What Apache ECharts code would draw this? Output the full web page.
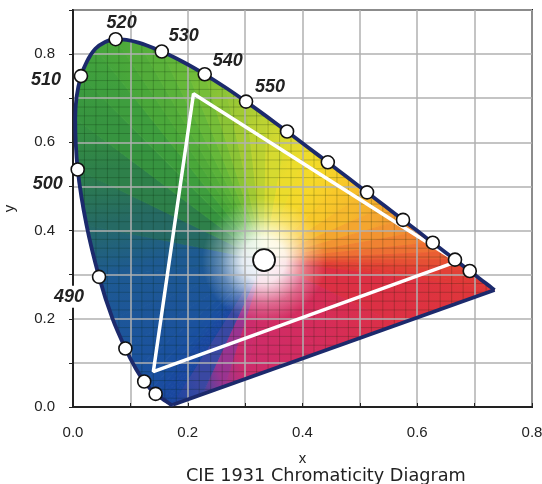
<!DOCTYPE html>
<html>
<head>
<meta charset="utf-8">
<script src="https://cdn.jsdelivr.net/npm/echarts@6/dist/echarts.min.js"></script>
<style>
  html, body { margin: 0; padding: 0; background: #fff; }
  #chart { width: 542px; height: 484px; }
</style>
</head>
<body>
<div id="chart"></div>
<script>
// spectral locus (CIE 1931)
const wavelengths = [380, 400, 420, 430, 440, 445, 450, 455, 460, 465, 470, 475, 480, 485, 490, 495, 500, 505, 510, 515, 520, 525, 530, 535, 540, 545, 550, 555, 560, 565, 570, 575, 580, 585, 590, 595, 600, 605, 610, 615, 620, 630, 640, 650, 660, 680, 700];
const locusX = [0.1741, 0.1733, 0.1714, 0.1689, 0.1644, 0.1611, 0.1566, 0.1510, 0.1440, 0.1355, 0.1241, 0.1096, 0.0913, 0.0687, 0.0454, 0.0235, 0.0082, 0.0039, 0.0139, 0.0389, 0.0743, 0.1142, 0.1547, 0.1929, 0.2296, 0.2658, 0.3016, 0.3373, 0.3731, 0.4087, 0.4441, 0.4788, 0.5125, 0.5448, 0.5752, 0.6029, 0.6270, 0.6482, 0.6658, 0.6801, 0.6915, 0.7079, 0.7190, 0.7260, 0.7300, 0.7334, 0.7347];
const locusY = [0.0050, 0.0048, 0.0051, 0.0069, 0.0109, 0.0138, 0.0177, 0.0227, 0.0297, 0.0399, 0.0578, 0.0868, 0.1327, 0.2007, 0.2950, 0.4127, 0.5384, 0.6548, 0.7502, 0.8120, 0.8338, 0.8262, 0.8059, 0.7816, 0.7543, 0.7243, 0.6923, 0.6589, 0.6245, 0.5896, 0.5547, 0.5202, 0.4866, 0.4544, 0.4242, 0.3965, 0.3725, 0.3514, 0.3340, 0.3197, 0.3083, 0.2920, 0.2809, 0.2740, 0.2700, 0.2666, 0.2653];

const markedNm = [460, 470, 480, 490, 500, 510, 520, 530, 540, 550, 560, 570, 580, 590, 600, 610, 620];
const labeledNm = [490, 500, 510, 520, 530, 540, 550];

// gamut triangle and white point
const triX = [0.67, 0.21, 0.14];
const triY = [0.33, 0.71, 0.08];
const whitePoint = [0.333, 0.333];

const tickLabels = ['0.0', '0.2', '0.4', '0.6', '0.8'];

// fill colours along the locus (style)
const locusColors = ['#1a45a0', '#1a45a0', '#1a46a0', '#1a47a0', '#1a48a0', '#1a48a0', '#1a49a0', '#1a4aa0', '#1a4ca0', '#1a4ea0', '#1a50a0', '#1b529e', '#1c549c', '#1d5698', '#1e5a92', '#266a64', '#2e804a', '#379440', '#3e9e3e', '#44a43c', '#4aa83a', '#52ac3a', '#5ab23a', '#66b83a', '#76be38', '#8cc436', '#a2ca34', '#bcd232', '#d6da30', '#ecdc2c', '#f6d82a', '#f8c82a', '#f6b82c', '#f4a630', '#f29432', '#f08232', '#ee7034', '#ea5e34', '#e65034', '#e44634', '#e24036', '#e03a36', '#e03838', '#e03838', '#e03838', '#e03838', '#e03838'];
const purpleStops = [[0, '#e03838'], [0.3, '#dc3044'], [0.55, '#d42c5e'], [0.77, '#cc2c6c'], [0.84, '#9a3490'], [0.91, '#3a48a2'], [1, '#1a45a0']];

const labelOffsets = { 490: [-30, 20], 500: [-30, 15], 510: [-35, 4], 520: [6, -16], 530: [22, -15], 540: [23, -13], 550: [24, -15] };

const poly = wavelengths.map((nm, i) => [locusX[i], locusY[i]]);

function span(ci, c) {
  const oi = 1 - ci;
  const hits = [];
  for (let i = 0; i < poly.length; i++) {
    const p = poly[i], q = poly[(i + 1) % poly.length];
    if ((p[ci] - c) * (q[ci] - c) <= 0 && p[ci] !== q[ci]) {
      const t = (c - p[ci]) / (q[ci] - p[ci]);
      hits.push(p[oi] + t * (q[oi] - p[oi]));
    }
  }
  if (hits.length < 2) return null;
  return [Math.min(...hits), Math.max(...hits)];
}

function tri(W, A, B, cA, cB) {
  let fill = cA;
  if (Math.hypot(B[0] - A[0], B[1] - A[1]) > 0.5) {
    fill = { type: 'linear', x: A[0], y: A[1], x2: B[0], y2: B[1], global: true,
      colorStops: [{ offset: 0, color: cA }, { offset: 1, color: cB }] };
  }
  return { type: 'polygon', shape: { points: [W, A, B] }, style: { fill: fill, stroke: fill, lineWidth: 1 } };
}

function renderFill(params, api) {
  const W = api.coord(whitePoint);
  const pts = poly.map(p => api.coord(p));
  const children = [];
  for (let i = 0; i < pts.length - 1; i++) {
    children.push(tri(W, pts[i], pts[i + 1], locusColors[i], locusColors[i + 1]));
  }
  const tip = pts[pts.length - 1], bot = pts[0];
  const lerp = f => [tip[0] + (bot[0] - tip[0]) * f, tip[1] + (bot[1] - tip[1]) * f];
  for (let j = 0; j < purpleStops.length - 1; j++) {
    children.push(tri(W, lerp(purpleStops[j][0]), lerp(purpleStops[j + 1][0]), purpleStops[j][1], purpleStops[j + 1][1]));
  }
  // white glow around the white point
  children.push({
    type: 'polygon', shape: { points: pts },
    style: { fill: { type: 'radial', x: W[0], y: W[1], r: 62, global: true,
      colorStops: [
        { offset: 0, color: 'rgba(255,255,255,1)' },
        { offset: 0.35, color: 'rgba(255,255,255,0.88)' },
        { offset: 0.7, color: 'rgba(255,255,255,0.3)' },
        { offset: 1, color: 'rgba(255,255,255,0)' }
      ] } }
  });
  // fine graph-paper lines inside the locus
  for (let k = 1; k < 40; k++) {
    if (k % 5 === 0) continue;
    const c = k * 0.02;
    const v = span(0, c);
    if (v) {
      const a = api.coord([c, v[0]]), b = api.coord([c, v[1]]);
      children.push({ type: 'line', shape: { x1: a[0], y1: a[1], x2: b[0], y2: b[1] }, style: { stroke: 'rgba(0,30,0,0.22)', lineWidth: 1 } });
    }
    const h = span(1, c);
    if (h) {
      const a = api.coord([h[0], c]), b = api.coord([h[1], c]);
      children.push({ type: 'line', shape: { x1: a[0], y1: a[1], x2: b[0], y2: b[1] }, style: { stroke: 'rgba(0,30,0,0.22)', lineWidth: 1 } });
    }
  }
  return { type: 'group', children: children };
}

const tickFmt = v => {
  const s = v.toFixed(1);
  return tickLabels.indexOf(s) >= 0 ? s : '';
};

const font = 'Liberation Sans, Arial, sans-serif';

const markerData = markedNm.map(nm => {
  const i = wavelengths.indexOf(nm);
  const item = { value: [locusX[i], locusY[i]] };
  if (labeledNm.indexOf(nm) >= 0) {
    item.label = {
      show: true, formatter: String(nm), position: 'inside', offset: labelOffsets[nm],
      fontFamily: font, fontSize: 18, fontWeight: 'bold', fontStyle: 'italic', color: '#222'
    };
    if (nm === 490) {
      item.label.backgroundColor = '#fff';
      item.label.padding = [2, 3];
    }
  }
  return item;
});

const navy = '#1c2a6c';

const chart = echarts.init(document.getElementById('chart'));
chart.setOption({
  animation: false,
  backgroundColor: '#fff',
  title: {
    text: 'CIE 1931 Chromaticity Diagram',
    left: 181, top: 462,
    textStyle: { fontFamily: 'DejaVu Sans, sans-serif', fontSize: 17.7, fontWeight: 'normal', color: '#222' }
  },
  grid: {
    left: 73, right: 10, top: 10, bottom: 77, outerBoundsMode: 'none', containLabel: false,
    show: true, borderColor: '#222', borderWidth: 2, backgroundColor: 'transparent'
  },
  xAxis: {
    type: 'value', min: 0, max: 0.8, interval: 0.1, z: 3,
    name: 'x', nameLocation: 'middle', nameGap: 44,
    nameTextStyle: { fontFamily: font, fontSize: 15, color: '#222' },
    axisLine: { lineStyle: { color: '#222', width: 2 } },
    axisTick: { inside: true, length: 4, lineStyle: { color: '#222' } },
    axisLabel: { formatter: tickFmt, margin: 18, fontFamily: font, fontSize: 15, color: '#222' },
    splitLine: { lineStyle: { color: '#b0b0b0', width: 1.5 } }
  },
  yAxis: {
    type: 'value', min: 0, max: 0.9, interval: 0.1, z: 3,
    name: 'y', nameLocation: 'middle', nameGap: 56,
    nameTextStyle: { fontFamily: font, fontSize: 15, color: '#222' },
    axisLine: { lineStyle: { color: '#222', width: 2 } },
    axisTick: { length: 4, lineStyle: { color: '#222' } },
    axisLabel: { formatter: tickFmt, margin: 18, fontFamily: font, fontSize: 15, color: '#222' },
    splitLine: { lineStyle: { color: '#b0b0b0', width: 1.5 } }
  },
  series: [
    {
      type: 'custom', z: 1, silent: true,
      renderItem: renderFill,
      data: [[0, 0]]
    },
    {
      type: 'line', z: 4, silent: true, symbol: 'none',
      data: triX.concat(triX[0]).map((x, i) => [x, triY.concat(triY[0])[i]]),
      lineStyle: { color: '#fff', width: 3.5 }
    },
    {
      // spectral curve
      type: 'line', z: 5, silent: true, symbol: 'none', smooth: 0.3,
      data: poly,
      lineStyle: { color: navy, width: 3.8, join: 'round' }
    },
    {
      // line of purples
      type: 'line', z: 5, silent: true, symbol: 'none',
      data: [poly[poly.length - 1], poly[0]],
      lineStyle: { color: navy, width: 3.8, join: 'round' }
    },
    {
      type: 'scatter', z: 6, silent: true, clip: false,
      symbol: 'circle', symbolSize: 13,
      itemStyle: { color: '#fff', borderColor: '#111', borderWidth: 1.6, opacity: 1 },
      data: markerData
    },
    {
      type: 'scatter', z: 6, silent: true,
      symbol: 'circle', symbolSize: 22,
      itemStyle: { color: '#fff', borderColor: '#111', borderWidth: 1.8, opacity: 1 },
      data: [whitePoint]
    }
  ]
});
</script>
</body>
</html>
